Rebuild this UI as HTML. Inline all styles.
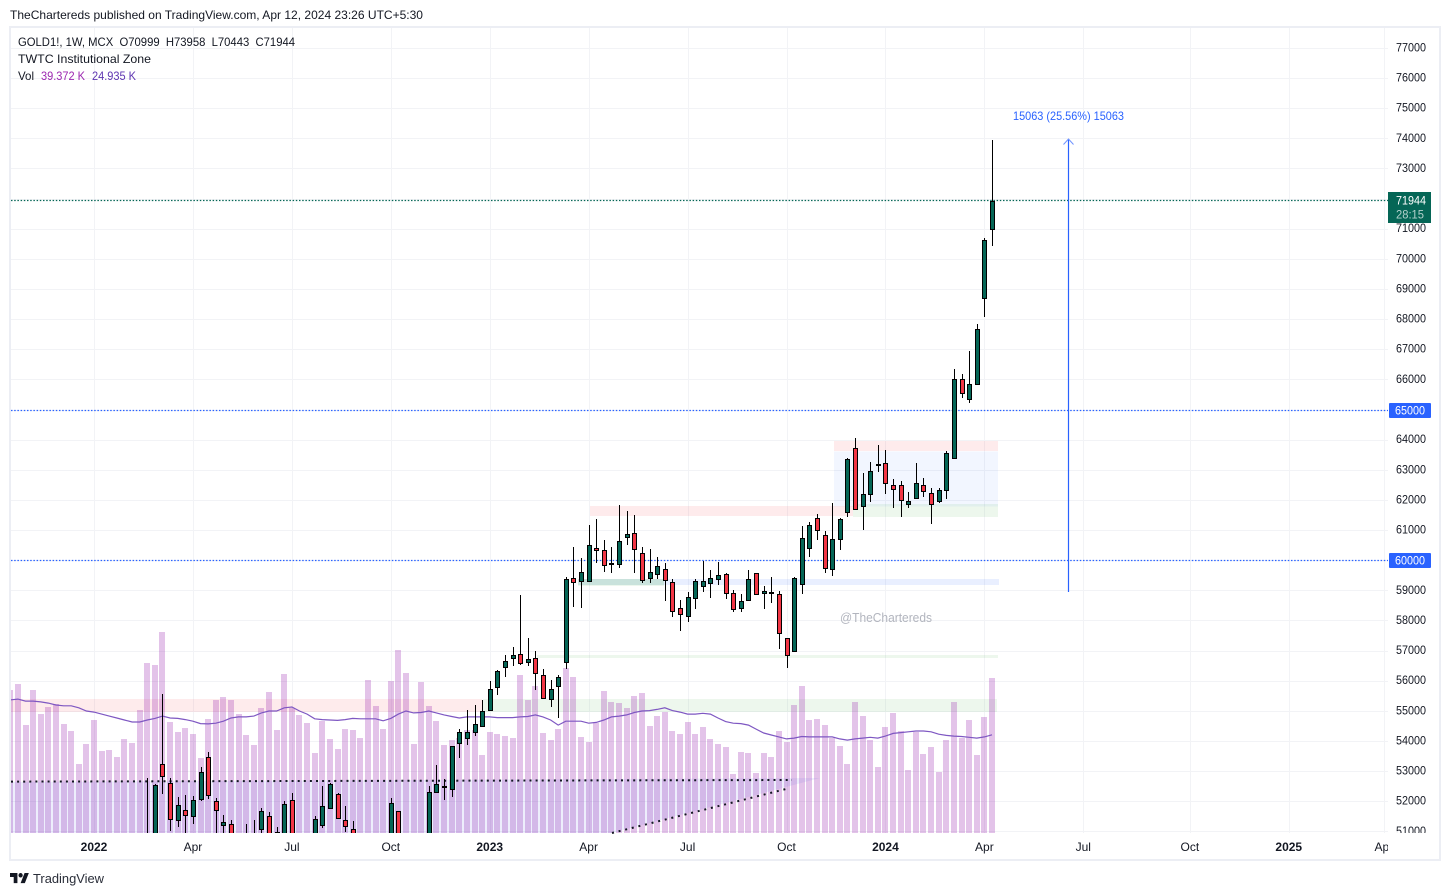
<!DOCTYPE html>
<html lang="en">
<head>
<meta charset="utf-8">
<title>GOLD1! weekly chart</title>
<style>
html,body{margin:0;padding:0;background:#fff;}
body{width:1450px;height:896px;overflow:hidden;}
svg{display:block;font-family:"Liberation Sans",sans-serif;}
text{font-family:"Liberation Sans",sans-serif;}
</style>
</head>
<body>
<svg id="chart" xmlns="http://www.w3.org/2000/svg" width="1450" height="896" viewBox="0 0 1450 896">
  <defs>
    <clipPath id="plot-clip"><rect x="11" y="28" width="1377" height="805"/></clipPath>
    <clipPath id="axis-clip"><rect x="1388" y="28" width="51" height="805"/></clipPath>
  </defs>
  <rect width="1450" height="896" fill="#fff"/>
  <text x="10" y="19" font-size="12" fill="#131722" textLength="413" lengthAdjust="spacingAndGlyphs">TheChartereds published on TradingView.com, Apr 12, 2024 23:26 UTC+5:30</text>
  <g id="grid"></g>
  <g clip-path="url(#plot-clip)">
    <rect x="10" y="699" width="472" height="13" fill="#f23645" fill-opacity="0.1"/>
    <rect x="483" y="699" width="514" height="13" fill="#4caf50" fill-opacity="0.1"/>
    <rect x="537" y="655" width="461" height="3" fill="#4caf50" fill-opacity="0.1"/>
    <rect x="578" y="579" width="421" height="6" fill="#2962ff" fill-opacity="0.1"/>
    <rect x="578" y="579" width="86" height="6.5" fill="#4caf50" fill-opacity="0.2"/>
    <rect x="590" y="506" width="263" height="10" fill="#f23645" fill-opacity="0.1"/>
    <rect x="834" y="451.5" width="164" height="55" fill="#2962ff" fill-opacity="0.06"/>
    <rect x="853" y="504" width="145" height="13" fill="#4caf50" fill-opacity="0.1"/>
    <rect x="834" y="441" width="164" height="10" fill="#f23645" fill-opacity="0.1"/>
  </g>
  <g id="volume-layer" clip-path="url(#plot-clip)"></g>
  <polygon points="11,782 820,778 612,833 11,833" fill="#535ae6" fill-opacity="0.1"/>
  <polyline id="volume-ma" fill="none" stroke="#7e57c2" stroke-width="1.2" clip-path="url(#plot-clip)"/>
  <g id="price-lines"></g>
  <line x1="11" y1="781.6" x2="792" y2="780" stroke="#131722" stroke-width="2" stroke-dasharray="2 4.1"/>
  <line x1="612" y1="833" x2="786" y2="789" stroke="#131722" stroke-width="2" stroke-dasharray="2 4.8"/>
  <g id="candle-layer" clip-path="url(#plot-clip)"></g>
  <line x1="1068.5" y1="592" x2="1068.5" y2="139" stroke="#2962ff" stroke-width="1.2"/>
  <polyline points="1063.5,144.5 1068.5,139 1073.5,144.5" fill="none" stroke="#6f93ff" stroke-width="1"/>
  <text x="1013" y="120" font-size="12" fill="#2962ff" textLength="111" lengthAdjust="spacingAndGlyphs">15063 (25.56%) 15063</text>
  <text x="840" y="622" font-size="12.5" fill="#b2b5be" textLength="92" lengthAdjust="spacingAndGlyphs">@TheChartereds</text>
  <rect x="10" y="27" width="1430" height="833" fill="none" stroke="#eceef4" stroke-width="2"/>
  <g>
    <text x="18" y="46" font-size="12" fill="#131722" textLength="277" lengthAdjust="spacingAndGlyphs" xml:space="preserve">GOLD1!, 1W, MCX  O70999  H73958  L70443  C71944</text>
    <text x="18" y="63" font-size="12" fill="#131722" textLength="133" lengthAdjust="spacingAndGlyphs">TWTC Institutional Zone</text>
    <text x="18" y="80" font-size="12" fill="#131722" textLength="16" lengthAdjust="spacingAndGlyphs">Vol</text>
    <text x="41" y="80" font-size="12" fill="#9c27b0" textLength="44" lengthAdjust="spacingAndGlyphs">39.372 K</text>
    <text x="92" y="80" font-size="12" fill="#5e35b1" textLength="44" lengthAdjust="spacingAndGlyphs">24.935 K</text>
  </g>
  <g id="price-axis" clip-path="url(#axis-clip)"></g>
  <g id="time-axis"></g>
  <g>
    <rect x="1388" y="192" width="43" height="31" fill="#056656"/>
    <text x="1396" y="204.5" font-size="11.5" fill="#fff" textLength="30" lengthAdjust="spacingAndGlyphs">71944</text>
    <text x="1396" y="218.5" font-size="11.5" fill="#b4d1cc" textLength="28" lengthAdjust="spacingAndGlyphs">28:15</text>
  </g>
  <g>
    <rect x="1389" y="403" width="42" height="15" rx="1" fill="#2962ff"/>
    <text x="1395" y="414.5" font-size="11.5" fill="#fff" textLength="30" lengthAdjust="spacingAndGlyphs">65000</text>
  </g>
  <g>
    <rect x="1389" y="553" width="42" height="15" rx="1" fill="#2962ff"/>
    <text x="1395" y="564.5" font-size="11.5" fill="#fff" textLength="30" lengthAdjust="spacingAndGlyphs">60000</text>
  </g>
  <g>
    <g transform="translate(10,870.8) scale(0.53,0.56)" fill="#131722">
      <path d="M14 22H7V11H0V4h14v18z"/>
      <path d="M28 22h-8l7.5-18h8L28 22z"/>
      <circle cx="20" cy="8" r="4"/>
    </g>
    <text x="33" y="883" font-size="13" fill="#2a2e39" textLength="71" lengthAdjust="spacingAndGlyphs">TradingView</text>
  </g>
</svg>
<script>
const weeks = ['21-10-18','21-10-25','21-11-01','21-11-08','21-11-15','21-11-22','21-11-29','21-12-06','21-12-13','21-12-20','21-12-27',
'22-01-03','22-01-10','22-01-17','22-01-24','22-01-31','22-02-07','22-02-14','22-02-21','22-02-28','22-03-07','22-03-14','22-03-21','22-03-28','22-04-04','22-04-11','22-04-18','22-04-25','22-05-02','22-05-09','22-05-16','22-05-23','22-05-30','22-06-06','22-06-13','22-06-20','22-06-27','22-07-04','22-07-11','22-07-18','22-07-25','22-08-01','22-08-08','22-08-15','22-08-22','22-08-29','22-09-05','22-09-12','22-09-19','22-09-26','22-10-03','22-10-10','22-10-17','22-10-24','22-10-31','22-11-07','22-11-14','22-11-21','22-11-28','22-12-05','22-12-12','22-12-19','22-12-26',
'23-01-02','23-01-09','23-01-16','23-01-23','23-01-30','23-02-06','23-02-13','23-02-20','23-02-27','23-03-06','23-03-13','23-03-20','23-03-27','23-04-03','23-04-10','23-04-17','23-04-24','23-05-01','23-05-08','23-05-15','23-05-22','23-05-29','23-06-05','23-06-12','23-06-19','23-06-26','23-07-03','23-07-10','23-07-17','23-07-24','23-07-31','23-08-07','23-08-14','23-08-21','23-08-28','23-09-04','23-09-11','23-09-18','23-09-25','23-10-02','23-10-09','23-10-16','23-10-23','23-10-30','23-11-06','23-11-13','23-11-20','23-11-27','23-12-04','23-12-11','23-12-18','23-12-25',
'24-01-01','24-01-08','24-01-15','24-01-22','24-01-29','24-02-05','24-02-12','24-02-19','24-02-26','24-03-04','24-03-11','24-03-18','24-03-25','24-04-01','24-04-08'];

const opens = [47800,48100,48400,47900,48000,48450,47550,47850,48050,47800,48000,
47500,48000,47900,48250,48300,49000,50100,50200,50700,53241,52610,51402,51714,51535,52099,53473,52013,51236,51249,50500,50400,50400,51103,51515,50984,50800,52046,50600,50500,50700,51236,51780,52245,51382,51083,50700,50400,50300,50500,50800,51681,
50700,50500,50300,50700,52311,52520,52411,53938,54104,54323,54502,55033,55796,56460,56759,56892,56626,56759,56195,55398,55849,56646,59414,59315,59315,60410,60343,59879,59879,60775,60908,60244,59414,59547,59713,59281,58418,58153,58750,59149,59248,59381,59547,58916,58418,58684,59580,58916,58950,58883,57423,56991,59215,60410,61405,60841,59713,60709,61605,63729,61804,62202,63165,63231,62501,62501,61870,62069,62501,62235,61970,62335,63397,66019,65355,65853,68707,70999];
const highs = [48300,48600,48500,48250,48700,48600,48000,48200,48300,48100,48100,
48200,48400,48300,48800,49200,50300,50800,52786,52580,55574,52786,52145,52212,52189,53141,53639,52112,51558,51392,50800,51259,51392,51780,51658,51150,52013,52278,50850,50800,51525,52521,52610,52288,51857,51359,50880,50800,50700,50900,52122,51700,
50900,50850,50800,52521,53207,52743,53860,54402,55033,55199,55365,55996,56361,56859,57124,58860,57423,56991,56394,56039,56195,59447,60443,60078,61183,61382,60675,60443,61847,61648,61515,60443,60377,60111,59912,59381,58684,58950,59381,59998,59680,59955,59580,59016,58883,59680,59590,59149,59447,58983,57430,59447,61150,61273,61538,60974,61903,61405,63397,64061,62899,63264,63828,63662,62700,62634,62268,63231,62733,62401,62401,63629,66361,66185,66948,67844,70699,73958];
const lows = [47500,47900,47700,47450,47700,47300,47200,47650,47700,47500,47300,
47300,47800,47600,48000,48100,48800,49700,50000,50400,52255,51037,51170,50800,51259,52033,52089,50800,50700,50500,50200,50200,50100,50970,50500,50300,50500,50500,50300,50200,50400,51127,51757,51458,50994,50400,50300,50100,50000,50200,50500,50500,
50400,50200,50100,50400,52311,52056,52165,53460,53881,54190,54502,55033,55541,56138,56503,56536,56503,55707,55398,55152,54787,56394,58471,58438,59281,59932,59633,59580,59746,60519,59580,59248,59248,59381,58671,58120,57675,57974,58405,58969,58770,59202,58737,58306,58306,58684,58875,58385,58584,57058,56447,56991,58903,60131,60685,59580,59500,60363,61459,61671,61027,61956,62932,62202,61757,61459,61757,62069,62122,61226,61903,62056,63397,65408,65222,65853,68077,70443];
const closes = [48100,48400,47900,48000,48450,47550,47850,48050,47800,48000,47500,
48000,47900,48250,48300,49000,50100,50500,50700,52554,52862,51435,51880,51568,52046,52975,52232,51734,51316,50700,50400,50800,50700,51681,50800,50600,51913,50800,50450,50700,51415,51847,52577,51468,51203,50700,50400,50300,50500,50600,51946,50800,
50500,50300,50600,52311,52577,52530,53838,54303,54303,54569,55000,55730,56327,56659,56859,56593,56726,56261,55431,55730,56128,59381,59281,59613,60509,60343,59846,59912,60642,60874,60377,59348,59613,59812,59348,58319,58219,58784,59315,59315,59414,59514,58916,58385,58651,59381,58883,58983,58960,57589,56859,59414,60742,61173,61007,59746,60709,61372,63364,61704,62202,62965,63198,62567,62368,62003,61970,62567,62302,61870,62335,63563,66019,65554,65853,67678,70632,71944];

const volumes = [36.3,37.8,27.4,36.3,30.2,32.0,32.8,27.7,25.9,17.5,22.6,
28.7,20.8,21.1,19.3,23.9,22.9,31.2,43.2,42.7,51.1,28.2,25.7,26.7,25.1,19.1,29.0,33.8,34.5,33.8,30.2,24.9,22.4,31.8,35.8,26.2,40.4,31.8,30.0,27.9,20.3,28.4,23.9,21.3,26.4,26.2,24.1,38.9,32.3,26.4,38.6,46.5,
40.6,22.6,38.4,32.3,28.4,22.4,23.6,24.1,26.2,26.2,19.8,25.7,25.1,24.6,24.1,40.1,33.8,37.3,25.4,23.6,26.4,41.9,39.6,24.4,23.1,27.9,36.1,33.3,33.0,31.8,34.8,35.6,27.2,29.7,30.7,25.9,25.1,28.2,25.1,26.9,23.9,22.6,21.8,15.0,20.6,20.3,15.2,20.3,19.3,25.9,23.1,32.5,37.3,28.7,29.0,27.4,24.1,22.1,17.5,33.3,29.7,23.6,16.8,26.9,30.5,25.9,16.0,25.7,20.1,21.8,15.5,23.6,33.3,24.1,28.7,19.8,29.5,39.372];
const volumeMA = [33.8,34.0,33.5,33.5,33.3,33.0,32.5,32.3,32.3,31.8,31.0,
30.7,30.2,29.7,29.2,28.7,28.2,28.2,28.7,29.1,29.7,29.2,29.1,28.8,28.4,27.8,27.7,27.9,28.4,29.2,29.5,29.5,29.7,30.5,31.0,31.0,31.8,32.0,31.0,30.2,29.0,28.8,28.7,28.6,28.8,29.1,29.0,29.0,29.0,28.5,29.1,30.2,
31.0,30.5,30.6,31.0,30.5,30.0,29.6,29.2,29.5,29.5,29.5,29.5,29.3,29.3,29.3,29.5,29.6,30.0,29.5,28.7,27.4,28.4,28.4,28.4,27.9,28.1,28.7,29.5,29.7,30.0,30.6,31.0,31.1,31.4,31.8,31.1,30.7,30.2,30.2,30.4,30.2,29.2,28.3,27.9,27.8,27.4,26.4,25.4,24.9,24.4,23.9,24.1,24.5,24.4,24.4,24.4,24.4,23.9,23.6,23.9,24.1,24.3,24.1,24.6,25.3,25.5,25.7,25.9,25.9,25.7,25.1,24.8,24.6,24.5,24.3,24.1,24.4,24.935];

const priceTicks = [51000,52000,53000,54000,55000,56000,57000,58000,59000,60000,61000,62000,63000,64000,65000,66000,67000,68000,69000,70000,71000,72000,73000,74000,75000,76000,77000];
const timeTickWeeks = [11,24,37,50,63,76,89,102,115,128,141,155,168,180.5];
const timeTickLabels = ['2022','Apr','Jul','Oct','2023','Apr','Jul','Oct','2024','Apr','Jul','Oct','2025','Apr'];
const lastPrice = 71944;
const alertPrices = [65000,60000];

const SVGNS = 'http://www.w3.org/2000/svg';
const PLOT_BOTTOM = 836;
function xScale(i){ return 94 + 7.61 * (i - 11); }
function yScale(p){ return 410 + (65000 - p) * 0.03013; }
function candleY(p){ return Math.min(Math.round(yScale(p)), PLOT_BOTTOM); }
function volY(v){ return 833 - v * 3.937; }
function make(tag, parent){ const n = document.createElementNS(SVGNS, tag); parent.appendChild(n); return n; }
function setA(n, o){ for (const k in o) n.setAttribute(k, o[k]); }

const grid = document.getElementById('grid');
const priceAxis = document.getElementById('price-axis');
const timeAxis = document.getElementById('time-axis');
const volumeLayer = document.getElementById('volume-layer');
const candleLayer = document.getElementById('candle-layer');
const priceLines = document.getElementById('price-lines');

priceTicks.forEach(function(p){
  const y = Math.floor(yScale(p)) + 0.5;
  if (y < 833) {
    const line = make('line', grid);
    
    
    setA(line, {x1: 11, x2: 1388, y1: y, y2: y, stroke: '#f2f3f6', 'stroke-width': 1});
  }
  if (p === 65000 || p === 60000) return;
  const t = make('text', priceAxis);
  
  
  setA(t, {x: 1396, y: yScale(p) + 3, 'font-size': 11.5, fill: '#131722', textLength: 30, lengthAdjust: 'spacingAndGlyphs'});
  t.textContent = String(p);
});

timeTickWeeks.forEach(function(w, idx){
  const x = Math.round(xScale(w)) + 0.5;
  const line = make('line', grid);
  
  
  setA(line, {x1: x, x2: x, y1: 28, y2: 833, stroke: '#f2f3f6', 'stroke-width': 1});
  const label = timeTickLabels[idx];
  const bold = label.length === 4;
  const t = make('text', timeAxis);
  
  
  setA(t, {x: xScale(w), y: 851, 'font-size': 12, fill: '#131722', 'text-anchor': 'middle', 'font-weight': bold ? 'bold' : 'normal'});
  t.textContent = label;
});
const timeAxisMask = make('rect', timeAxis);


setA(timeAxisMask, {x: 1388, y: 838, width: 51, height: 20, fill: '#fff'});

volumes.forEach(function(v, i){
  const r = make('rect', volumeLayer);
  
  
  const top = Math.round(volY(v));
  setA(r, {x: Math.round(xScale(i)) - 3, y: top, width: 6, height: 833 - top, fill: '#9c27b0', 'fill-opacity': 0.28});
});

document.getElementById('volume-ma').setAttribute('points', volumeMA.map(function(v, i){
  return xScale(i).toFixed(1) + ',' + volY(v).toFixed(1);
}).join(' '));

[lastPrice].concat(alertPrices).forEach(function(p){
  const y = Math.floor(yScale(p)) + 0.5;
  const l = make('line', priceLines);
  
  
  setA(l, {x1: 11, x2: 1388, y1: y, y2: y, stroke: p === lastPrice ? '#056656' : '#2962ff', 'stroke-width': 1.3, 'stroke-dasharray': '1.5 1.7'});
});

weeks.forEach(function(w, i){
  const g = make('g', candleLayer);
  
  
  const cx = Math.round(xScale(i));
  const wick = make('line', g);
  
  
  setA(wick, {x1: cx + 0.5, x2: cx + 0.5, y1: candleY(highs[i]), y2: candleY(lows[i]), stroke: '#000', 'stroke-width': 1});
  const up = closes[i] >= opens[i];
  const top = candleY(Math.max(opens[i], closes[i]));
  const bot = candleY(Math.min(opens[i], closes[i]));
  const b = make('rect', g);
  
  
  setA(b, {x: cx - 1.5, y: top + 0.5, width: 4, height: Math.max(bot - top, 1), fill: up ? '#056656' : '#f23645', stroke: '#000', 'stroke-width': 1});
});
</script>
</body>
</html>
